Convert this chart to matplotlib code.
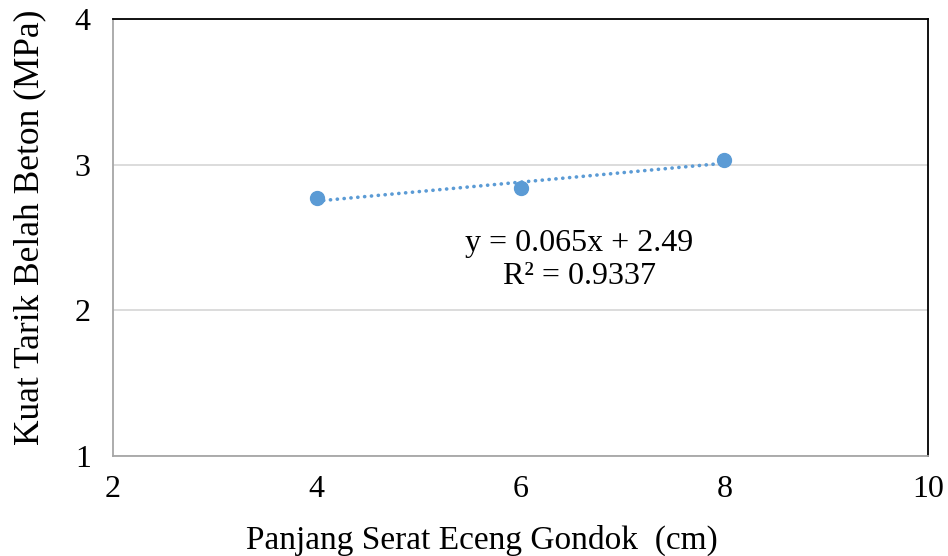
import matplotlib
matplotlib.use("Agg")
import matplotlib.pyplot as plt
import numpy as np

x_vals = [4, 6, 8]
y_vals = [2.77, 2.84, 3.03]
x_ticks = [2, 4, 6, 8, 10]
y_ticks = [1, 2, 3, 4]
eq_text = "y = 0.065x + 2.49\nR² = 0.9337"
x_label = "Panjang Serat Eceng Gondok  (cm)"
y_label = "Kuat Tarik Belah Beton (MPa)"

plt.rcParams['font.family'] = ['Liberation Serif', 'DejaVu Serif']

fig = plt.figure(figsize=(9.48, 5.56), dpi=100)
ax = fig.add_axes([113/948, 1 - 456/556, (928-113)/948, (456-19)/556])

color = '#5B9BD5'
coef = np.polyfit(x_vals, y_vals, 1)
tx = np.array([min(x_vals), max(x_vals)])
ax.plot(tx, np.polyval(coef, tx), linestyle=(0, (0.05, 1.85)), color=color,
        linewidth=2.6, dash_capstyle='round', zorder=2)
ax.plot(x_vals, y_vals, 'o', color=color, markersize=10, zorder=3)

ax.set_xlim(2, 10)
ax.set_ylim(1, 4)
ax.set_xticks(x_ticks)
ax.set_yticks(y_ticks)
ax.yaxis.grid(True, color='#D9D9D9', linewidth=1.3)
ax.set_axisbelow(True)
ax.tick_params(length=0, labelsize=23)
ax.tick_params(axis='x', pad=14)
ax.tick_params(axis='y', pad=16)

for s in ['top', 'right']:
    ax.spines[s].set_color('black')
    ax.spines[s].set_linewidth(1.3)
for s in ['left', 'bottom']:
    ax.spines[s].set_color('#A6A6A6')
    ax.spines[s].set_linewidth(1.3)

fig.text(482/948, 1 - 540/556, x_label, fontsize=24, ha='center', va='center')
fig.text(30/948, 1 - 227/556, y_label, fontsize=25.5, ha='center', va='center', rotation=90)

ax.text(6.58, 2.345, eq_text, fontsize=23, ha='center', va='center', linespacing=1.15)

fig.savefig("out.png", dpi=100)
